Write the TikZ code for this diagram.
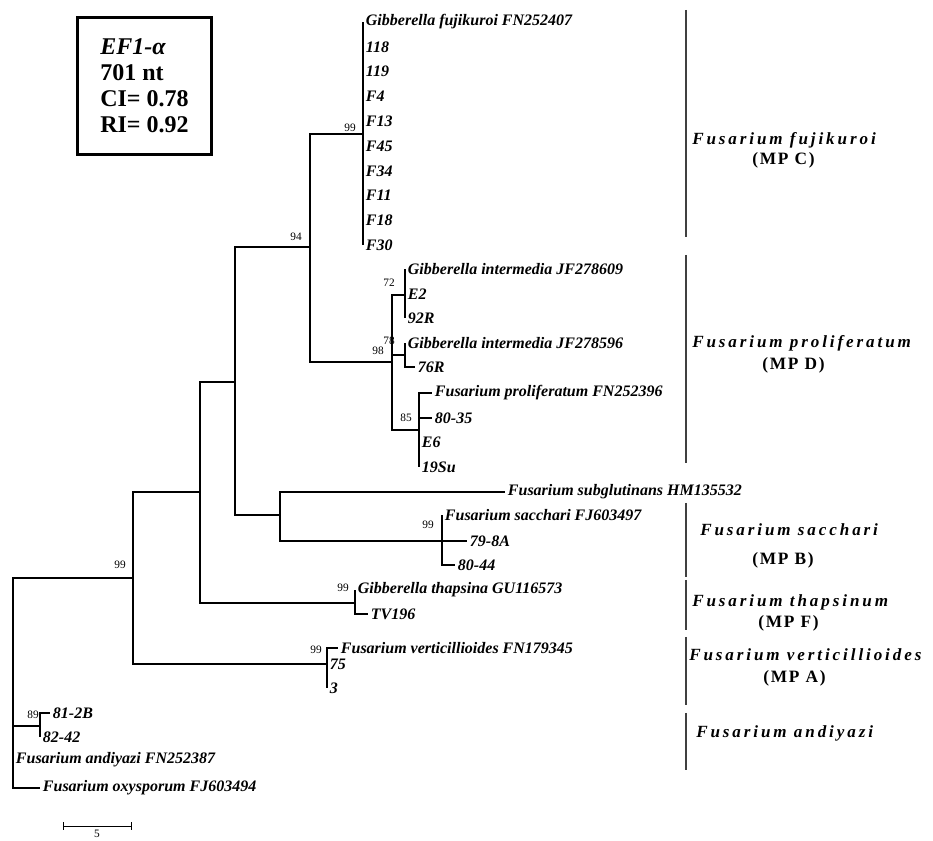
\documentclass[tikz,border=0pt]{standalone}
\usepackage{fontspec}
\setmainfont{Liberation Serif}

\tikzset{
  branch/.style={line width=1.3pt},
  taxon/.style={anchor=west, inner sep=2pt, font=\fontsize{12}{14}\selectfont\bfseries\itshape},
  boot/.style={inner sep=0pt, font=\fontsize{8.5}{9}\selectfont},
  cladebar/.style={line width=0.8pt, black!75},
  cladename/.style={anchor=west, inner sep=0pt, font=\fontsize{12.8}{15}\selectfont\bfseries\itshape\addfontfeature{LetterSpace=17}},
  mpname/.style={anchor=west, inner sep=0pt, font=\fontsize{13}{15}\selectfont\bfseries\addfontfeature{LetterSpace=10}},
  infobox/.style={draw, line width=2.2pt, anchor=north west, align=left,
    minimum width=100.5pt, minimum height=102.75pt,
    font=\fontsize{18}{19.5}\selectfont\bfseries}
}

\begin{document}
\begin{tikzpicture}[x=0.75pt, y=-0.75pt]
  \useasboundingbox (0,0) rectangle (933,841);
  % Info box
  \node[infobox] (info) at (76,16) {\textit{EF1-α}\\701 nt\\CI= 0.78\\RI= 0.92};
  % Internal nodes
  \coordinate (root) at (13,683);
  \coordinate (top99) at (133,578);
  \coordinate (nb) at (200,492);
  \coordinate (nc) at (235,382);
  \coordinate (n94) at (310,247);
  \coordinate (fuji) at (363,134);
  \coordinate (prol) at (392,362);
  \coordinate (int1) at (405,295);
  \coordinate (int2) at (405,355);
  \coordinate (prol3) at (419,430);
  \coordinate (sac0) at (280,515);
  \coordinate (sac) at (442,541);
  \coordinate (thap) at (355,603);
  \coordinate (vert) at (327,664);
  \coordinate (andi) at (40,726);
  % Taxa
  \node[taxon] (gfuj) at (363,22) {Gibberella fujikuroi FN252407};
  \foreach \lab [count=\i] in {118,119,F4,F13,F45,F34,F11,F18,F30}
    \node[taxon] (fk\i) at (363,{22+24.8*\i}) {\lab};
  \node[taxon] (gint1) at (405,269) {Gibberella intermedia JF278609};
  \node[taxon] (e2) at (405,294) {E2};
  \node[taxon] (r92) at (405,318) {92R};
  \node[taxon] (gint2) at (405,343) {Gibberella intermedia JF278596};
  \node[taxon] (r76) at (415,367) {76R};
  \node[taxon] (fpro) at (432,393) {Fusarium proliferatum FN252396};
  \node[taxon] (s8035) at (432,418) {80-35};
  \node[taxon] (e6) at (419,442) {E6};
  \node[taxon] (su19) at (419,467) {19Su};
  \node[taxon] (fsub) at (505,492) {Fusarium subglutinans HM135532};
  \node[taxon] (fsac) at (442,515) {Fusarium sacchari FJ603497};
  \node[taxon] (a798) at (467,541) {79-8A};
  \node[taxon] (s8044) at (455,565) {80-44};
  \node[taxon] (gtha) at (355,590) {Gibberella thapsina GU116573};
  \node[taxon] (tv196) at (368,614) {TV196};
  \node[taxon] (fver) at (338,648) {Fusarium verticillioides FN179345};
  \node[taxon] (v75) at (327,664) {75};
  \node[taxon] (v3) at (327,688) {3};
  \node[taxon] (b812) at (50,713) {81-2B};
  \node[taxon] (b8242) at (40,737) {82-42};
  \node[taxon] (fand) at (13,760) {Fusarium andiyazi FN252387};
  \node[taxon] (foxy) at (40,788) {Fusarium oxysporum FJ603494};
  % Branches
  \draw[branch] (root) |- (top99) (root) |- (andi) (root) |- (fand.west) (root) |- (foxy.west);
  \draw[branch] (top99) |- (nb) (top99) |- (vert);
  \draw[branch] (nb) |- (nc) (nb) |- (thap);
  \draw[branch] (nc) |- (n94) (nc) |- (sac0);
  \draw[branch] (n94) |- (fuji) (n94) |- (prol);
  \draw[branch] (fuji) |- (gfuj.west);
  \foreach \i in {1,...,9}
    \draw[branch] (fuji) |- (fk\i.west);
  \draw[branch] (prol) |- (int1) (prol) |- (int2) (prol) |- (prol3);
  \draw[branch] (int1) |- (gint1.west) (int1) |- (e2.west) (int1) |- (r92.west);
  \draw[branch] (int2) |- (gint2.west) (int2) |- (r76.west);
  \draw[branch] (prol3) |- (fpro.west) (prol3) |- (s8035.west) (prol3) |- (e6.west) (prol3) |- (su19.west);
  \draw[branch] (sac0) |- (fsub.west) (sac0) |- (sac);
  \draw[branch] (sac) |- (fsac.west) (sac) -- (a798.west) (sac) |- (s8044.west);
  \draw[branch] (thap) |- (gtha.west) (thap) |- (tv196.west);
  \draw[branch] (vert) |- (fver.west) (vert) |- (v75.west) (vert) |- (v3.west);
  \draw[branch] (andi) |- (b812.west) (andi) |- (b8242.west);
  % Bootstrap values
  \node[boot] (bs1) at (350,128) {99};
  \node[boot] (bs2) at (296,237) {94};
  \node[boot] (bs3) at (378,351) {98};
  \node[boot] (bs4) at (389,283) {72};
  \node[boot] (bs5) at (389,341) {78};
  \node[boot] (bs6) at (406,418) {85};
  \node[boot] (bs7) at (428,525) {99};
  \node[boot] (bs8) at (343,588) {99};
  \node[boot] (bs9) at (316,650) {99};
  \node[boot] (bs10) at (120,565) {99};
  \node[boot] (bs11) at (33,715) {89};
  % Clade bars
  \draw[cladebar] (686,10) -- (686,237);
  \draw[cladebar] (686,255) -- (686,463);
  \draw[cladebar] (686,503) -- (686,577);
  \draw[cladebar] (686,580) -- (686,630);
  \draw[cladebar] (686,637) -- (686,705);
  \draw[cladebar] (686,713) -- (686,770);
  % Clade names
  \node[cladename] (cfuj) at (692,140) {Fusarium fujikuroi};
  \node[mpname] (mpc) at (752,160) {(MP C)};
  \node[cladename] (cpro) at (692,343) {Fusarium proliferatum};
  \node[mpname] (mpd) at (762,365) {(MP D)};
  \node[cladename] (csac) at (700,530) {Fusarium sacchari};
  \node[mpname] (mpb) at (752,560) {(MP B)};
  \node[cladename] (ctha) at (692,602) {Fusarium thapsinum};
  \node[mpname] (mpf) at (758,623) {(MP F)};
  \node[cladename] (cver) at (689,655) {Fusarium verticillioides};
  \node[mpname] (mpa) at (763,678) {(MP A)};
  \node[cladename] (cand) at (696,733) {Fusarium andiyazi};
  % Scale bar
  \coordinate (sbl) at (63,826);
  \coordinate (sbr) at (131,826);
  \draw[line width=0.6pt] (sbl) -- (sbr);
  \draw[line width=0.6pt] ([yshift=3pt]sbl) -- ([yshift=-3pt]sbl) ([yshift=3pt]sbr) -- ([yshift=-3pt]sbr);
  \node[boot] (sblab) at (97,834) {5};
\end{tikzpicture}
\end{document}
